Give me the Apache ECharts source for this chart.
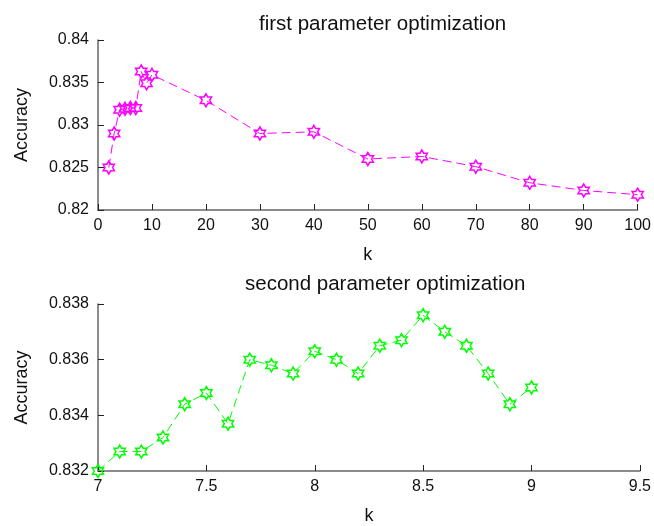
<!DOCTYPE html>
<html>
<head>
<meta charset="utf-8">
<style>
  html, body { margin: 0; padding: 0; background: #fff; }
  #chart { width: 654px; height: 526px; }
</style>
<script src="https://cdn.jsdelivr.net/npm/echarts@6/dist/echarts.min.js"></script>
</head>
<body>
<div id="chart"></div>
<script>
// First sweep: k from 2 to 100
const kFirst = [2, 3, 4, 5, 6, 7, 8, 9, 10, 20, 30, 40, 50, 60, 70, 80, 90, 100];
const accFirst = [0.8250, 0.8290, 0.8318, 0.8319, 0.8320, 0.8320, 0.8363, 0.8349, 0.8359,
                  0.8329, 0.8290, 0.8292, 0.8260, 0.8263, 0.8251, 0.8232, 0.8223, 0.8218];

// Second sweep: fine search of k between 7 and 9
const kSecond = [7.0, 7.1, 7.2, 7.3, 7.4, 7.5, 7.6, 7.7, 7.8, 7.9, 8.0,
                 8.1, 8.2, 8.3, 8.4, 8.5, 8.6, 8.7, 8.8, 8.9, 9.0];
const accSecond = [0.8320, 0.8327, 0.8327, 0.8332, 0.8344, 0.8348, 0.8337, 0.8360, 0.8358, 0.8355, 0.8363,
                   0.8360, 0.8355, 0.8365, 0.8367, 0.8376, 0.8370, 0.8365, 0.8355, 0.8344, 0.8350];

const titles = ['first parameter optimization', 'second parameter optimization'];
const xName = 'k';
const yName = 'Accuracy';

// Six-pointed star outline used as the marker
const hexagram = 'path://M0,-10 L2.887,-5 L8.66,-5 L5.774,0 L8.66,5 L2.887,5 L0,10 ' +
                 'L-2.887,5 L-8.66,5 L-5.774,0 L-8.66,-5 L-2.887,-5 Z';

const FONT = '"Liberation Sans", Arial, sans-serif';
const axisColor = '#666';

function xAxisFor(gridIndex, min, max, interval) {
  return {
    type: 'value', gridIndex, min, max, interval,
    name: xName, nameLocation: 'middle', nameGap: 36,
    nameTextStyle: { fontFamily: FONT, fontSize: 18, color: '#111' },
    axisLine: { show: true, lineStyle: { color: axisColor, width: 1.5 } },
    axisTick: { show: true, inside: true, length: 6, lineStyle: { color: '#222', width: 1 } },
    axisLabel: { fontFamily: FONT, fontSize: 16, color: '#111', margin: 8 },
    splitLine: { show: false }
  };
}

function yAxisFor(gridIndex, min, max, interval) {
  return {
    type: 'value', gridIndex, min, max, interval,
    name: yName, nameLocation: 'middle', nameGap: 67,
    nameTextStyle: { fontFamily: FONT, fontSize: 18, color: '#111' },
    axisLine: { show: true, lineStyle: { color: axisColor, width: 1.5 } },
    axisTick: { show: true, inside: true, length: 6, lineStyle: { color: '#222', width: 1 } },
    axisLabel: { fontFamily: FONT, fontSize: 16, color: '#111', margin: 9 },
    splitLine: { show: false }
  };
}

function lineSeries(idx, xs, ys, color) {
  return {
    type: 'line', xAxisIndex: idx, yAxisIndex: idx,
    data: xs.map((x, i) => [x, ys[i]]),
    symbol: hexagram, symbolSize: 13, symbolKeepAspect: true,
    lineStyle: { color, width: 1, type: [9, 5] },
    itemStyle: { color: 'rgba(255,255,255,0)', borderColor: color, borderWidth: 1.5 },
    animation: false
  };
}

const chart = echarts.init(document.getElementById('chart'), null, { renderer: 'canvas' });
chart.setOption({
  backgroundColor: '#fff',
  animation: false,
  title: [
    { text: titles[0], left: 254, top: 9,
      textStyle: { fontFamily: FONT, fontSize: 20.5, fontWeight: 'normal', color: '#111' } },
    { text: titles[1], left: 240, top: 269,
      textStyle: { fontFamily: FONT, fontSize: 20.5, fontWeight: 'normal', color: '#111' } }
  ],
  grid: [
    { left: 98, right: 13, top: 40, height: 170 },
    { left: 98, right: 13, top: 304, height: 171 }
  ],
  xAxis: [xAxisFor(0, 0, 100, 10), xAxisFor(1, 7, 9.5, 0.5)],
  yAxis: [yAxisFor(0, 0.82, 0.84, 0.005), yAxisFor(1, 0.832, 0.838, 0.002)],
  series: [
    lineSeries(0, kFirst, accFirst, '#ff00ff'),
    lineSeries(1, kSecond, accSecond, '#00ff00')
  ]
});
</script>
</body>
</html>
